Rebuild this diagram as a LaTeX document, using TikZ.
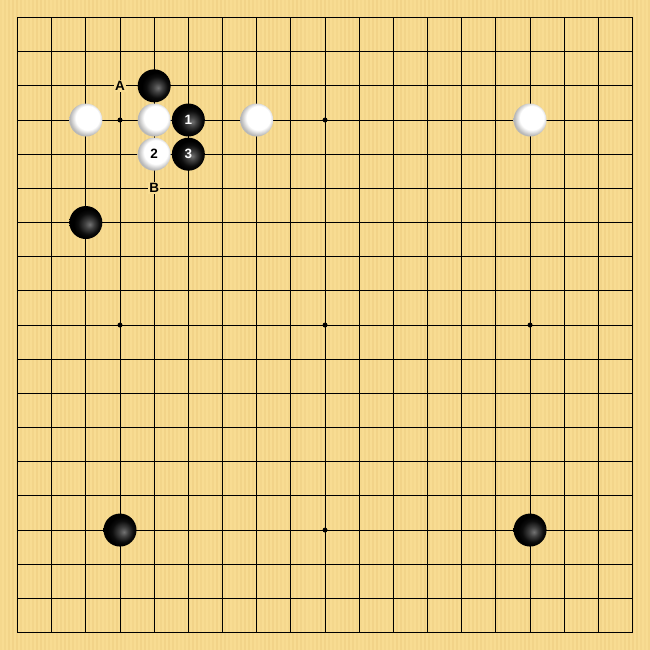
\documentclass[tikz,border=0pt]{standalone}
\usepackage{fontspec}
\setmainfont{Liberation Sans}
\definecolor{board}{RGB}{248,220,146}
\definecolor{grain}{RGB}{238,206,130}
\pgfdeclareradialshading{blk}{\pgfpoint{6bp}{-3bp}}{color(0bp)=(black!55); color(7bp)=(black!75); color(16bp)=(black!95); color(22bp)=(black); color(50bp)=(black)}
\pgfdeclareradialshading{wht}{\pgfpoint{4bp}{5bp}}{color(0bp)=(white); color(18bp)=(white); color(26bp)=(black!28); color(50bp)=(black!28)}
\tikzset{
  gridline/.style={line width=0.8pt, black},
  edge/.style={line width=1.8pt, black},
  bstone/.style={circle, inner sep=0pt, minimum size=33pt, shading=blk, text=white, font=\fontsize{13.5}{13.5}\selectfont\bfseries},
  wstone/.style={circle, inner sep=0pt, minimum size=33pt, shading=wht, text=black, font=\fontsize{13.5}{13.5}\selectfont\bfseries},
  lbl/.style={fill=board, inner sep=1.3pt, font=\fontsize{13.5}{13.5}\selectfont\bfseries},
  hoshi/.style={circle, fill=black, inner sep=0pt, minimum size=5pt}
}
\begin{document}
\begin{tikzpicture}[x=1pt,y=-1pt]
\useasboundingbox (0,0) rectangle (650,650);
\fill[board] (0,0) rectangle (650,650);
\foreach \s in {0,4,...,648} {
  \pgfmathsetmacro{\op}{0.25+0.35*abs(sin(\s*7))}
  \draw[grain, line width=1.2pt, opacity=\op] (\s+1,0) -- (\s+1,650);
}
\begin{scope}[shift={(17.5,17.5)}, x=34.17pt, y=-34.17pt]
  \foreach \i in {1,...,17} {
    \draw[gridline] (\i,0) -- (\i,18);
    \draw[gridline] (0,\i) -- (18,\i);
  }
  \draw[edge] (0,0) rectangle (18,18);
  \foreach \a/\b [count=\k] in {3/3,9/3,15/3,3/9,9/9,15/9,3/15,9/15,15/15}
    \node[hoshi] (h\k) at (\a,\b) {};
  \node[lbl] (la) at (3,2) {A};
  \node[lbl] (lb) at (4,5) {B};
  % black stones
  \node[bstone] (b0) at (4,2) {};
  \node[bstone] (b1) at (5,3) {1};
  \node[bstone] (b3) at (5,4) {3};
  \node[bstone] (b4) at (2,6) {};
  \node[bstone] (b5) at (3,15) {};
  \node[bstone] (b6) at (15,15) {};
  % white stones
  \node[wstone] (w0) at (2,3) {};
  \node[wstone] (w1) at (4,3) {};
  \node[wstone] (w2) at (4,4) {2};
  \node[wstone] (w3) at (7,3) {};
  \node[wstone] (w4) at (15,3) {};
\end{scope}
\end{tikzpicture}
\end{document}
